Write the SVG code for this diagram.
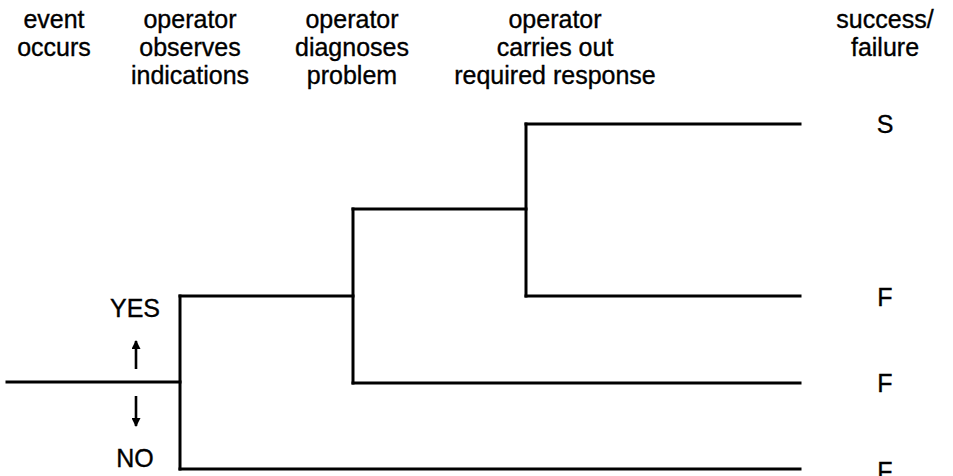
<svg xmlns="http://www.w3.org/2000/svg" width="953" height="476" viewBox="0 0 953 476">
  <style>
    .t { font-family: "Liberation Sans", Arial, Helvetica, sans-serif; font-size: 25px; fill: #000; stroke: #000; stroke-width: 0.35; text-anchor: middle; }
    .ln { stroke: #000; stroke-width: 3; fill: none; stroke-linecap: square; stroke-linejoin: miter; }
    .ar { stroke: #000; stroke-width: 2.6; fill: none; }
  </style>
  <defs>
    <marker id="head" viewBox="0 0 10 10" refX="9" refY="5" markerWidth="10" markerHeight="9" markerUnits="userSpaceOnUse" orient="auto">
      <path d="M0,0 L10,5 L0,10 z" fill="#000"/>
    </marker>
  </defs>
  <rect width="953" height="476" fill="#fff"/>

  <!-- column headings -->
  <g id="h-event">
    <text class="t" x="54" y="28">event</text>
    <text class="t" x="54" y="56">occurs</text>
  </g>
  <g id="h-observe">
    <text class="t" x="190" y="28">operator</text>
    <text class="t" x="190" y="56">observes</text>
    <text class="t" x="190" y="84">indications</text>
  </g>
  <g id="h-diagnose">
    <text class="t" x="352" y="28">operator</text>
    <text class="t" x="352" y="56">diagnoses</text>
    <text class="t" x="352" y="84">problem</text>
  </g>
  <g id="h-respond">
    <text class="t" x="555" y="28">operator</text>
    <text class="t" x="555" y="56">carries out</text>
    <text class="t" x="555" y="84">required response</text>
  </g>
  <g id="h-outcome">
    <text class="t" x="885" y="28">success/</text>
    <text class="t" x="885" y="56">failure</text>
  </g>

  <!-- branch legend -->
  <g id="legend">
    <text class="t" x="135" y="317">YES</text>
    <line class="ar" x1="136" y1="369" x2="136" y2="341" marker-end="url(#head)"/>
    <line class="ar" x1="136" y1="396" x2="136" y2="426" marker-end="url(#head)"/>
    <text class="t" x="135" y="467">NO</text>
  </g>

  <!-- event tree -->
  <g id="connectors">
    <path class="ln" d="M7,382 H180"/>
    <path class="ln" d="M180,296 V469"/>
    <path class="ln" d="M180,296 H353"/>
    <path class="ln" d="M180,469 H800"/>
    <path class="ln" d="M353,209 V383"/>
    <path class="ln" d="M353,209 H526"/>
    <path class="ln" d="M353,383 H800"/>
    <path class="ln" d="M526,124 V296"/>
    <path class="ln" d="M526,124 H800"/>
    <path class="ln" d="M526,296 H800"/>
  </g>

  <!-- outcomes -->
  <g id="outcomes">
    <text class="t" x="885" y="133">S</text>
    <text class="t" x="885" y="306">F</text>
    <text class="t" x="885" y="392">F</text>
    <text class="t" x="885" y="480">F</text>
  </g>
</svg>
